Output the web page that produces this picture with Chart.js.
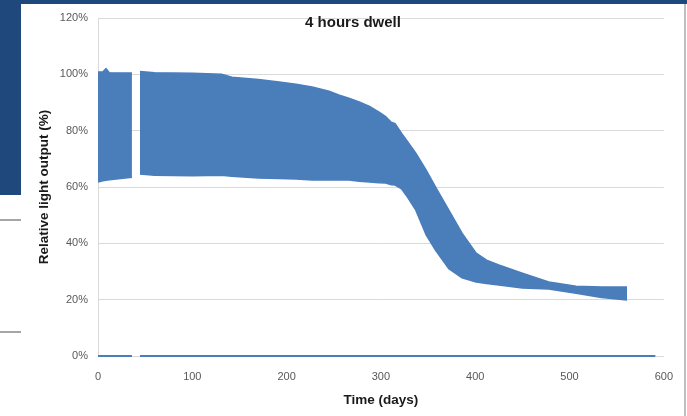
<!DOCTYPE html>
<html>
<head>
<meta charset="utf-8">
<script src="https://cdn.jsdelivr.net/npm/chart.js@4.4.1/dist/chart.umd.min.js"></script>
<style>
  html, body { margin: 0; padding: 0; background: #ffffff; }
  #wrap { position: relative; width: 687px; height: 416px; overflow: hidden; }
  #c { position: absolute; left: 0; top: 0; }
  .deco { position: absolute; }
</style>
</head>
<body>
<div id="wrap">
  <canvas id="c" width="687" height="416"></canvas>
  <div class="deco" style="left:0;top:0;width:687px;height:4px;background:#1f497d;"></div>
  <div class="deco" style="left:0;top:0;width:21px;height:195px;background:#1f497d;"></div>
  <div class="deco" style="left:0;top:219px;width:21px;height:2px;background:#a6a6a6;"></div>
  <div class="deco" style="left:0;top:331px;width:21px;height:2px;background:#a6a6a6;"></div>
  <div class="deco" style="left:684px;top:4px;width:2px;height:412px;background:#bfbfbf;"></div>
</div>
<script>
// ---- data ----
const days = [0, 5, 8.5, 12, 36, 40, 44.5, 60, 100, 131, 142, 170, 192, 210, 227, 245, 256, 266, 277, 288, 298, 305, 311, 315, 322, 327, 337, 348, 358, 372, 386, 401, 412, 425, 450, 478, 507, 534, 561];
const upperOutput = [100.8, 100.8, 102, 100.6, 100.5, null, 101, 100.6, 100.4, 100, 99, 98.2, 97.3, 96.5, 95.5, 94, 92.6, 91.5, 90.2, 88.6, 86.6, 85, 83, 82.5, 79, 76.7, 72, 66, 60, 51.8, 43.6, 36.5, 34, 32.3, 29.4, 26.3, 24.8, 24.5, 24.5];
const lowerOutput = [61.8, 62.2, 62.4, 62.6, 63.5, null, 64.6, 64.2, 64, 64.2, 63.8, 63.2, 63, 62.8, 62.5, 62.5, 62.5, 62.5, 62, 61.8, 61.5, 61.4, 60.8, 60.7, 59.3, 57, 51.8, 43, 37.5, 31, 27.8, 26.3, 25.7, 25.2, 24.1, 23.8, 22.3, 20.8, 19.9];
const offDays = [0, 36, 40, 44.5, 591];
const offOutput = [0, 0, null, 0, 0];
const streakDays = [311, 311];
const streakOutput = [82, 62];
const yTicks = [0, 20, 40, 60, 80, 100, 120];
const xTicks = [0, 100, 200, 300, 400, 500, 600];
const chartTitle = "4 hours dwell";
const xTitle = "Time (days)";
const yTitle = "Relative light output (%)";

const toPts = (xs, ys) => xs.map((x, i) => ({ x: x, y: ys[i] }));
const blue = '#4a7ebb';
const FONT = '"Liberation Sans", Arial, sans-serif';

const titlePlugin = {
  id: 'innerTitle',
  afterDraw(chart) {
    const ctx = chart.ctx;
    ctx.save();
    ctx.font = 'bold 15px ' + FONT;
    ctx.fillStyle = '#1a1a1a';
    ctx.textAlign = 'center';
    ctx.textBaseline = 'middle';
    ctx.fillText(chartTitle, 353, 23);
    ctx.restore();
  }
};

new Chart(document.getElementById('c'), {
  type: 'line',
  data: {
    datasets: [
      { data: toPts(days, upperOutput), borderColor: blue, backgroundColor: blue, borderWidth: 1.5, pointRadius: 0, fill: '+1', tension: 0 },
      { data: toPts(days, lowerOutput), borderColor: blue, backgroundColor: blue, borderWidth: 1.5, pointRadius: 0, fill: false, tension: 0 },
      { data: toPts(offDays, offOutput), borderColor: blue, borderWidth: 2, pointRadius: 0, fill: false, clip: false },
      { data: toPts(streakDays, streakOutput), borderColor: 'rgba(255,255,255,0.35)', borderWidth: 1, pointRadius: 0, fill: false }
    ]
  },
  options: {
    responsive: false,
    animation: false,
    devicePixelRatio: 1,
    layout: { padding: { left: 36, right: 22, top: 18, bottom: 8 } },
    plugins: { legend: { display: false }, tooltip: { enabled: false }, title: { display: false } },
    scales: {
      x: {
        type: 'linear', min: 0, max: 600,
        afterBuildTicks: (s) => { s.ticks = xTicks.map(v => ({ value: v })); },
        grid: { display: false, drawTicks: false },
        border: { display: true, color: '#d9d9d9', width: 1 },
        ticks: { padding: 14, color: '#595959', font: { size: 11, family: FONT } },
        title: { display: true, text: xTitle, color: '#1a1a1a', padding: { top: 0, bottom: 0 }, font: { size: 13.5, weight: 'bold', family: FONT } },
        afterFit: (s) => { s.height = 52; }
      },
      y: {
        min: 0, max: 120,
        afterBuildTicks: (s) => { s.ticks = yTicks.map(v => ({ value: v })); },
        grid: { color: '#d9d9d9', lineWidth: 1, drawTicks: false },
        border: { display: true, color: '#d9d9d9', width: 1 },
        ticks: { padding: 10, color: '#595959', font: { size: 11, family: FONT }, callback: (v) => v + '%' },
        title: { display: true, text: yTitle, color: '#1a1a1a', padding: { top: 0, bottom: 0 }, font: { size: 13.5, weight: 'bold', family: FONT } },
        afterFit: (s) => { s.width = 62; }
      }
    }
  },
  plugins: [titlePlugin]
});
</script>
</body>
</html>
